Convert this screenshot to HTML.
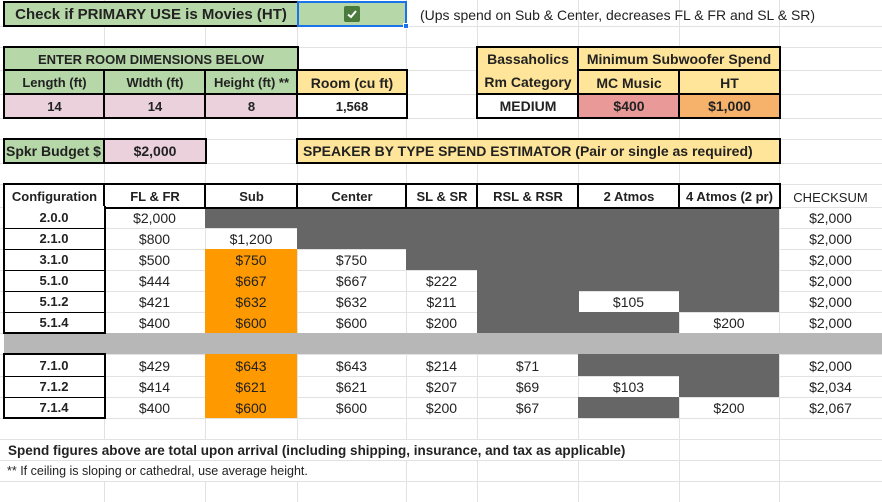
<!DOCTYPE html>
<html><head><meta charset="utf-8"><style>
*{margin:0;padding:0;box-sizing:border-box}
body{width:882px;height:502px;background:#fff;position:relative;overflow:hidden;font-family:"Liberation Sans",Arial,sans-serif;color:#222}
.v{position:absolute;top:0;width:1px;height:502px;background:#e2e2e2}
.h{position:absolute;left:0;height:1px;width:882px;background:#e2e2e2}
.c{position:absolute;display:flex;align-items:center;justify-content:center;font-size:14px;white-space:nowrap}
.b{border:2px solid #000}
.bo{font-weight:bold}
.g{background:#b6d7a8}.y{background:#ffe599}.p{background:#ead1dc}.w{background:#fff}
.d{background:#666}.o{background:#ff9900}.lg{background:#b7b7b7}
.hd{font-size:13px}
</style></head><body>
<div class="v" style="left:104px"></div><div class="v" style="left:205px"></div><div class="v" style="left:297px"></div><div class="v" style="left:406px"></div><div class="v" style="left:477px"></div><div class="v" style="left:578px"></div><div class="v" style="left:679px"></div><div class="v" style="left:779px"></div>
<div class="h" style="top:26px"></div><div class="h" style="top:47px"></div><div class="h" style="top:70px"></div><div class="h" style="top:94px"></div><div class="h" style="top:118px"></div><div class="h" style="top:139px"></div><div class="h" style="top:163px"></div><div class="h" style="top:184px"></div><div class="h" style="top:207px"></div><div class="h" style="top:228px"></div><div class="h" style="top:249px"></div><div class="h" style="top:270px"></div><div class="h" style="top:291px"></div><div class="h" style="top:312px"></div><div class="h" style="top:333px"></div><div class="h" style="top:354px"></div><div class="h" style="top:376px"></div><div class="h" style="top:397px"></div><div class="h" style="top:418px"></div><div class="h" style="top:439px"></div><div class="h" style="top:460px"></div><div class="h" style="top:481px"></div>

<div class="c g b bo" style="left:3px;top:1px;width:296px;height:26px;font-size:15px">Check if PRIMARY USE is Movies (HT)</div>
<div class="c g" style="left:297px;top:1px;width:110px;height:26px;border:2px solid #1a73e8"><div style="width:16px;height:16px;background:#4a7a3c;border-radius:2px;display:flex;align-items:center;justify-content:center"><svg width="12" height="12" viewBox="0 0 12 12"><path d="M2 6.5 L5 9 L10 3" stroke="#fff" stroke-width="2" fill="none"/></svg></div></div>
<div style="position:absolute;left:403px;top:23px;width:6px;height:6px;background:#1a73e8;border:1px solid #fff"></div>
<div class="c" style="left:420px;top:4px;height:22px;justify-content:flex-start;font-size:14px">(Ups spend on Sub &amp; Center, decreases FL &amp; FR and SL &amp; SR)</div>

<div class="c g b" style="left:3px;top:46px;width:296px;height:26px;font-size:13px;font-weight:bold">ENTER ROOM DIMENSIONS BELOW</div>
<div class="c g b bo hd" style="left:3px;top:69px;width:103px;height:27px">Length (ft)</div>
<div class="c g b bo hd" style="left:103px;top:69px;width:104px;height:27px">WIdth (ft)</div>
<div class="c g b bo hd" style="left:204px;top:69px;width:95px;height:27px">Height (ft) **</div>
<div class="c y b bo" style="left:296px;top:69px;width:112px;height:27px;font-size:14px">Room (cu ft)</div>
<div class="c p b bo hd" style="left:3px;top:93px;width:103px;height:26px">14</div>
<div class="c p b bo hd" style="left:103px;top:93px;width:104px;height:26px">14</div>
<div class="c p b bo hd" style="left:204px;top:93px;width:95px;height:26px">8</div>
<div class="c w b bo hd" style="left:296px;top:93px;width:112px;height:26px">1,568</div>

<div class="c y b bo" style="left:476px;top:46px;width:104px;height:50px;flex-direction:column;line-height:23px;font-size:14px"><span>Bassaholics</span><span>Rm Category</span></div>
<div class="c y b bo" style="left:577px;top:46px;width:204px;height:26px;font-size:14px">Minimum Subwoofer Spend</div>
<div class="c y b bo" style="left:577px;top:69px;width:104px;height:27px;font-size:14px">MC Music</div>
<div class="c y b bo" style="left:678px;top:69px;width:103px;height:27px;font-size:14px">HT</div>
<div class="c w b bo" style="left:476px;top:93px;width:104px;height:26px;font-size:14px">MEDIUM</div>
<div class="c b bo" style="left:577px;top:93px;width:104px;height:26px;background:#ea9999;font-size:14px">$400</div>
<div class="c b bo" style="left:678px;top:93px;width:103px;height:26px;background:#f6b26b;font-size:14px">$1,000</div>

<div class="c g b bo" style="left:3px;top:138px;width:103px;height:26px;font-size:14px;justify-content:flex-start;padding-left:1px;overflow:hidden">Spkr Budget $</div>
<div class="c p b bo" style="left:103px;top:138px;width:104px;height:26px;font-size:14px">$2,000</div>
<div class="c y b bo" style="left:296px;top:138px;width:485px;height:26px;font-size:14px;justify-content:flex-start;padding-left:5px">SPEAKER BY TYPE SPEND ESTIMATOR (Pair or single as required)</div>

<div class="c d" style="left:205px;top:207px;width:574px;height:21px"></div>
<div class="c d" style="left:297px;top:228px;width:482px;height:21px"></div>
<div class="c d" style="left:406px;top:249px;width:373px;height:21px"></div>
<div class="c d" style="left:477px;top:270px;width:302px;height:21px"></div>
<div class="c d" style="left:477px;top:291px;width:102px;height:21px"></div>
<div class="c d" style="left:679px;top:291px;width:100px;height:21px"></div>
<div class="c d" style="left:477px;top:312px;width:202px;height:21px"></div>
<div class="c lg" style="left:4px;top:333px;width:878px;height:21px"></div>
<div class="c d" style="left:578px;top:354px;width:201px;height:22px"></div>
<div class="c d" style="left:679px;top:376px;width:100px;height:21px"></div>
<div class="c d" style="left:578px;top:397px;width:101px;height:21px"></div>
<div class="c o" style="left:205px;top:249px;width:92px;height:84px"></div>
<div class="c o" style="left:205px;top:354px;width:92px;height:64px"></div>

<div class="c w b bo hd" style="left:3px;top:183px;width:103px;height:26px">Configuration</div>
<div class="c w b bo hd" style="left:103px;top:183px;width:104px;height:26px">FL &amp; FR</div>
<div class="c w b bo hd" style="left:204px;top:183px;width:95px;height:26px">Sub</div>
<div class="c w b bo hd" style="left:296px;top:183px;width:112px;height:26px">Center</div>
<div class="c w b bo hd" style="left:405px;top:183px;width:74px;height:26px">SL &amp; SR</div>
<div class="c w b bo hd" style="left:476px;top:183px;width:104px;height:26px">RSL &amp; RSR</div>
<div class="c w b bo hd" style="left:577px;top:183px;width:104px;height:26px">2 Atmos</div>
<div class="c w b bo hd" style="left:678px;top:183px;width:103px;height:26px">4 Atmos (2 pr)</div>
<div class="c" style="left:779px;top:184px;width:103px;height:26px;font-size:13px">CHECKSUM</div>

<div class="c w" style="left:3px;top:206px;width:103px;height:128px;border:2px solid #000;border-top:none"></div>
<div class="c w" style="left:3px;top:353px;width:103px;height:66px;border:2px solid #000"></div>
<div style="position:absolute;left:4px;top:228px;width:100px;height:1px;background:#000"></div>
<div style="position:absolute;left:4px;top:249px;width:100px;height:1px;background:#000"></div>
<div style="position:absolute;left:4px;top:270px;width:100px;height:1px;background:#000"></div>
<div style="position:absolute;left:4px;top:291px;width:100px;height:1px;background:#000"></div>
<div style="position:absolute;left:4px;top:312px;width:100px;height:1px;background:#000"></div>
<div style="position:absolute;left:4px;top:376px;width:100px;height:1px;background:#000"></div>
<div style="position:absolute;left:4px;top:397px;width:100px;height:1px;background:#000"></div>

<div class="c bo hd" style="left:4px;top:207px;width:100px;height:21px">2.0.0</div>
<div class="c" style="left:104px;top:207px;width:101px;height:21px">$2,000</div>
<div class="c" style="left:779px;top:207px;width:103px;height:21px">$2,000</div>

<div class="c bo hd" style="left:4px;top:228px;width:100px;height:21px">2.1.0</div>
<div class="c" style="left:104px;top:228px;width:101px;height:21px">$800</div>
<div class="c" style="left:205px;top:228px;width:92px;height:21px">$1,200</div>
<div class="c" style="left:779px;top:228px;width:103px;height:21px">$2,000</div>

<div class="c bo hd" style="left:4px;top:249px;width:100px;height:21px">3.1.0</div>
<div class="c" style="left:104px;top:249px;width:101px;height:21px">$500</div>
<div class="c" style="left:205px;top:249px;width:92px;height:21px">$750</div>
<div class="c" style="left:297px;top:249px;width:109px;height:21px">$750</div>
<div class="c" style="left:779px;top:249px;width:103px;height:21px">$2,000</div>

<div class="c bo hd" style="left:4px;top:270px;width:100px;height:21px">5.1.0</div>
<div class="c" style="left:104px;top:270px;width:101px;height:21px">$444</div>
<div class="c" style="left:205px;top:270px;width:92px;height:21px">$667</div>
<div class="c" style="left:297px;top:270px;width:109px;height:21px">$667</div>
<div class="c" style="left:406px;top:270px;width:71px;height:21px">$222</div>
<div class="c" style="left:779px;top:270px;width:103px;height:21px">$2,000</div>

<div class="c bo hd" style="left:4px;top:291px;width:100px;height:21px">5.1.2</div>
<div class="c" style="left:104px;top:291px;width:101px;height:21px">$421</div>
<div class="c" style="left:205px;top:291px;width:92px;height:21px">$632</div>
<div class="c" style="left:297px;top:291px;width:109px;height:21px">$632</div>
<div class="c" style="left:406px;top:291px;width:71px;height:21px">$211</div>
<div class="c" style="left:578px;top:291px;width:101px;height:21px">$105</div>
<div class="c" style="left:779px;top:291px;width:103px;height:21px">$2,000</div>

<div class="c bo hd" style="left:4px;top:312px;width:100px;height:21px">5.1.4</div>
<div class="c" style="left:104px;top:312px;width:101px;height:21px">$400</div>
<div class="c" style="left:205px;top:312px;width:92px;height:21px">$600</div>
<div class="c" style="left:297px;top:312px;width:109px;height:21px">$600</div>
<div class="c" style="left:406px;top:312px;width:71px;height:21px">$200</div>
<div class="c" style="left:679px;top:312px;width:100px;height:21px">$200</div>
<div class="c" style="left:779px;top:312px;width:103px;height:21px">$2,000</div>

<div class="c bo hd" style="left:4px;top:355px;width:100px;height:21px">7.1.0</div>
<div class="c" style="left:104px;top:355px;width:101px;height:21px">$429</div>
<div class="c" style="left:205px;top:355px;width:92px;height:21px">$643</div>
<div class="c" style="left:297px;top:355px;width:109px;height:21px">$643</div>
<div class="c" style="left:406px;top:355px;width:71px;height:21px">$214</div>
<div class="c" style="left:477px;top:355px;width:101px;height:21px">$71</div>
<div class="c" style="left:779px;top:355px;width:103px;height:21px">$2,000</div>

<div class="c bo hd" style="left:4px;top:376px;width:100px;height:21px">7.1.2</div>
<div class="c" style="left:104px;top:376px;width:101px;height:21px">$414</div>
<div class="c" style="left:205px;top:376px;width:92px;height:21px">$621</div>
<div class="c" style="left:297px;top:376px;width:109px;height:21px">$621</div>
<div class="c" style="left:406px;top:376px;width:71px;height:21px">$207</div>
<div class="c" style="left:477px;top:376px;width:101px;height:21px">$69</div>
<div class="c" style="left:578px;top:376px;width:101px;height:21px">$103</div>
<div class="c" style="left:779px;top:376px;width:103px;height:21px">$2,034</div>

<div class="c bo hd" style="left:4px;top:397px;width:100px;height:21px">7.1.4</div>
<div class="c" style="left:104px;top:397px;width:101px;height:21px">$400</div>
<div class="c" style="left:205px;top:397px;width:92px;height:21px">$600</div>
<div class="c" style="left:297px;top:397px;width:109px;height:21px">$600</div>
<div class="c" style="left:406px;top:397px;width:71px;height:21px">$200</div>
<div class="c" style="left:477px;top:397px;width:101px;height:21px">$67</div>
<div class="c" style="left:679px;top:397px;width:100px;height:21px">$200</div>
<div class="c" style="left:779px;top:397px;width:103px;height:21px">$2,067</div>

<div class="c w bo" style="left:4px;top:440px;width:620px;height:20px;justify-content:flex-start;padding-left:4px;font-size:13.5px">Spend figures above are total upon arrival (including shipping, insurance, and tax as applicable)</div>
<div class="c w" style="left:4px;top:461px;width:330px;height:20px;justify-content:flex-start;padding-left:3px;font-size:12.5px">** If ceiling is sloping or cathedral, use average height.</div>
</body></html>
